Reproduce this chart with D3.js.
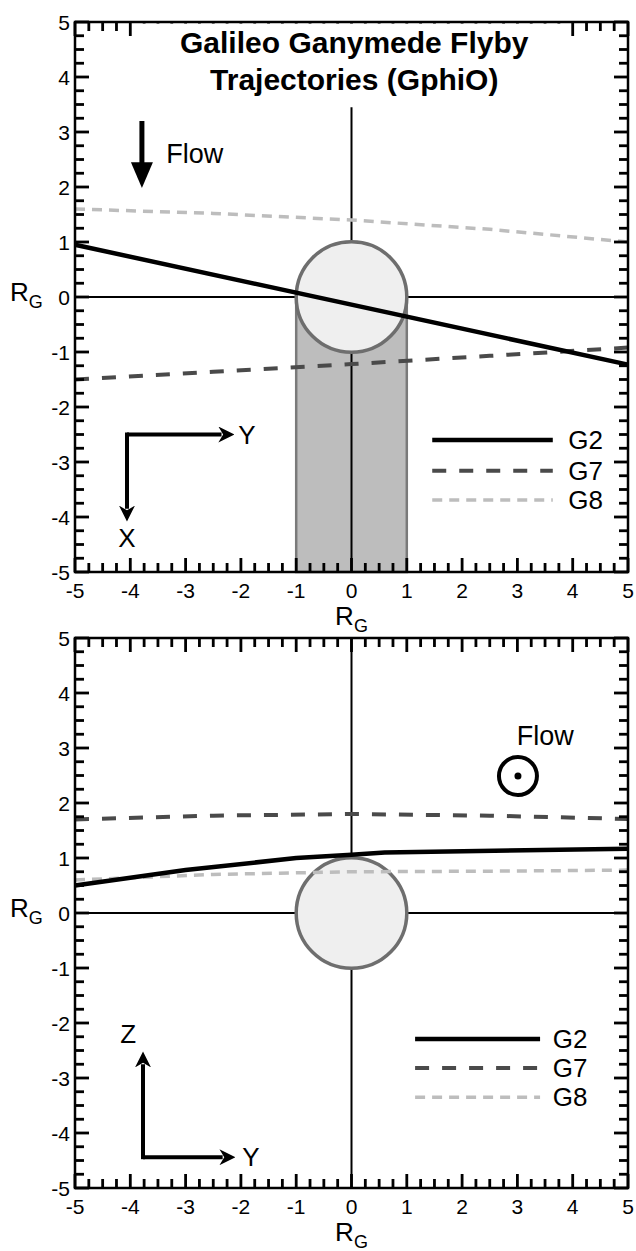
<!DOCTYPE html>
<html>
<head>
<meta charset="utf-8">
<script src="https://cdn.jsdelivr.net/npm/d3@7"></script>
<style>
  body { margin: 0; background: #fff; }
  svg { display: block; font-family: "Liberation Sans", Arial, sans-serif; }
</style>
</head>
<body>
<svg id="chart"></svg>
<script>
// tick values (RG units)
const majorTicks = d3.range(-5, 6, 1);
const minorTicks = d3.range(-5, 5.001, 0.25);

// XY panel (top): position along Y vs trajectory X
const xyG2x = [-5, 5];
const xyG2 = [0.95, -1.23];
const xyG7x = [-5, -2.5, 0, 2.5, 5];
const xyG7 = [-1.50, -1.36, -1.22, -1.07, -0.92];
const xyG8x = [-5, -2.5, 0, 2.5, 5];
const xyG8 = [1.60, 1.52, 1.40, 1.23, 1.00];

// YZ panel (bottom)
const yzG2x = [-5, -3, -1, 0, 0.6, 5];
const yzG2 = [0.50, 0.78, 1.00, 1.06, 1.10, 1.17];
const yzG7x = [-5, -2.5, 0, 2.5, 5];
const yzG7 = [1.70, 1.77, 1.80, 1.77, 1.71];
const yzG8x = [-5, -2.5, 0, 2.5, 5];
const yzG8 = [0.60, 0.70, 0.75, 0.76, 0.78];

const flybys = ["G2", "G7", "G8"];
const titleLines = ["Galileo Ganymede Flyby", "Trajectories (GphiO)"];

const W = 636, H = 1251;
const svg = d3.select("#chart").attr("width", W).attr("height", H);

const x = d3.scaleLinear().domain([-5, 5]).range([75, 628]);
const yTop = d3.scaleLinear().domain([-5, 5]).range([572, 22]);
const yBot = d3.scaleLinear().domain([-5, 5]).range([1188, 638]);

const lineStyle = {
  G2: { color: "#000", width: 4.5, dash: null },
  G7: { color: "#4a4a4a", width: 4, dash: "14,13" },
  G8: { color: "#bdbdbd", width: 3.5, dash: "10,7" }
};

svg.append("defs").append("marker")
  .attr("id", "head")
  .attr("viewBox", "0 0 10 10").attr("refX", 2).attr("refY", 5)
  .attr("markerWidth", 4).attr("markerHeight", 4)
  .attr("orient", "auto")
  .append("path").attr("d", "M0,0 L10,5 L0,10 L3,5 Z").attr("fill", "#000");

const isMajor = v => Math.abs(v - Math.round(v)) < 1e-6;

// inward ticks on all four sides (drawn as thin rects), labels on bottom and left
function drawTicks(g, y) {
  const [y0, y1] = y.range();
  const [xa, xb] = x.range();
  const tk = g.append("g").attr("class", "ticks").attr("fill", "#000");
  const len = v => (isMajor(v) ? 14 : 9);
  tk.selectAll(".tb").data(minorTicks).join("rect").attr("class", "tb")
    .attr("x", v => x(v) - 1.4).attr("width", 2.8)
    .attr("y", v => y0 - len(v)).attr("height", v => len(v));
  tk.selectAll(".tt").data(minorTicks).join("rect").attr("class", "tt")
    .attr("x", v => x(v) - 1.4).attr("width", 2.8)
    .attr("y", y1).attr("height", v => len(v));
  tk.selectAll(".tl").data(minorTicks).join("rect").attr("class", "tl")
    .attr("y", v => y(v) - 1.4).attr("height", 2.8)
    .attr("x", xa).attr("width", v => len(v));
  tk.selectAll(".tr").data(minorTicks).join("rect").attr("class", "tr")
    .attr("y", v => y(v) - 1.4).attr("height", 2.8)
    .attr("x", v => xb - len(v)).attr("width", v => len(v));

  g.append("g").selectAll("text").data(majorTicks).join("text")
    .attr("x", v => x(v)).attr("y", y0 + 11).attr("dy", "0.71em")
    .attr("text-anchor", "middle").style("font-size", "21px")
    .text(v => String(v));
  g.append("g").selectAll("text").data(majorTicks).join("text")
    .attr("x", xa - 5).attr("y", v => y(v)).attr("dy", "0.36em")
    .attr("text-anchor", "end").style("font-size", "21px")
    .text(v => String(v));
}

function drawFrame(g, y) {
  const [y0, y1] = y.range();
  g.append("rect")
    .attr("x", x(-5)).attr("y", y1)
    .attr("width", x(5) - x(-5)).attr("height", y0 - y1)
    .attr("fill", "none").attr("stroke", "#000").attr("stroke-width", 2.5);
}

function rgLabel(g, px, py, anchor) {
  const t = g.append("text").attr("x", px).attr("y", py)
    .attr("text-anchor", anchor).style("font-size", "26px").attr("fill", "#000");
  t.append("tspan").text("R");
  t.append("tspan").attr("dy", 7).style("font-size", "18px").text("G");
}

function drawTraj(g, y, xs, vs, key) {
  const s = lineStyle[key];
  const line = d3.line().x(p => x(p[0])).y(p => y(p[1]));
  g.append("path")
    .datum(xs.map((v, i) => [v, vs[i]]))
    .attr("d", line)
    .attr("fill", "none")
    .attr("stroke", s.color)
    .attr("stroke-width", s.width)
    .attr("stroke-dasharray", s.dash);
}

function drawLegend(g, y, lx0, lx1, tx, ys) {
  flybys.forEach((k, i) => {
    const s = lineStyle[k];
    g.append("line")
      .attr("x1", x(lx0)).attr("x2", x(lx1))
      .attr("y1", y(ys[i])).attr("y2", y(ys[i]))
      .attr("stroke", s.color).attr("stroke-width", s.width)
      .attr("stroke-dasharray", s.dash);
    g.append("text")
      .attr("x", x(tx)).attr("y", y(ys[i]) + 9)
      .style("font-size", "26px").attr("fill", "#000")
      .text(k);
  });
}

function arrow(g, x1, y1, x2, y2, w) {
  g.append("line")
    .attr("x1", x1).attr("y1", y1).attr("x2", x2).attr("y2", y2)
    .attr("stroke", "#000").attr("stroke-width", w)
    .attr("marker-end", "url(#head)");
}

function drawGanymede(g, y) {
  g.append("circle")
    .attr("cx", x(0)).attr("cy", y(0)).attr("r", x(1) - x(0))
    .attr("fill", "#efefef").attr("stroke", "#6e6e6e").attr("stroke-width", 3.5);
}

// ---------- top panel ----------
const topPanel = svg.append("g");

topPanel.append("rect")
  .attr("x", x(-1)).attr("y", yTop(0))
  .attr("width", x(1) - x(-1)).attr("height", yTop(-5) - yTop(0))
  .attr("fill", "#bdbdbd").attr("stroke", "#7a7a7a").attr("stroke-width", 2.5);

topPanel.append("line").attr("x1", x(-5)).attr("x2", x(5))
  .attr("y1", yTop(0)).attr("y2", yTop(0)).attr("stroke", "#000").attr("stroke-width", 2);
topPanel.append("line").attr("x1", x(0)).attr("x2", x(0))
  .attr("y1", yTop(3.45)).attr("y2", yTop(-5)).attr("stroke", "#000").attr("stroke-width", 2);

drawGanymede(topPanel, yTop);
drawTraj(topPanel, yTop, xyG8x, xyG8, "G8");
drawTraj(topPanel, yTop, xyG7x, xyG7, "G7");
drawTraj(topPanel, yTop, xyG2x, xyG2, "G2");
drawTicks(topPanel, yTop);

// white box behind the title hides the top ticks
topPanel.append("rect")
  .attr("x", x(-3.96)).attr("y", yTop(5) + 1.5)
  .attr("width", x(3.96) - x(-3.96)).attr("height", yTop(3.5) - yTop(5))
  .attr("fill", "#fff");
drawFrame(topPanel, yTop);

topPanel.selectAll(".title").data(titleLines).join("text")
  .attr("x", x(0.05)).attr("y", (t, i) => 53 + i * 37)
  .attr("text-anchor", "middle")
  .style("font-size", "30px").style("font-weight", "bold")
  .attr("fill", "#000")
  .text(t => t);

// flow arrow
topPanel.append("line")
  .attr("x1", x(-3.79)).attr("x2", x(-3.79))
  .attr("y1", yTop(3.2)).attr("y2", yTop(2.4))
  .attr("stroke", "#000").attr("stroke-width", 5);
topPanel.append("path")
  .attr("d", `M${x(-3.79) - 11},${yTop(2.45)} L${x(-3.79) + 11},${yTop(2.45)} L${x(-3.79)},${yTop(1.98)} Z`)
  .attr("fill", "#000");
topPanel.append("text").attr("x", x(-3.35)).attr("y", yTop(2.44))
  .style("font-size", "27px").attr("fill", "#000").text("Flow");

// coordinate arrows Y -> and X down
const cTop = [-4.06, -2.5];
arrow(topPanel, x(cTop[0]), yTop(cTop[1]), x(-2.35), yTop(cTop[1]), 4);
arrow(topPanel, x(cTop[0]), yTop(cTop[1]), x(cTop[0]), yTop(-3.85), 4);
topPanel.append("line").attr("x1", x(cTop[0]) - 2).attr("x2", x(cTop[0]) + 2)
  .attr("y1", yTop(cTop[1])).attr("y2", yTop(cTop[1]))
  .attr("stroke", "#000").attr("stroke-width", 4);
topPanel.append("text").attr("x", x(-1.89)).attr("y", yTop(cTop[1]) + 9)
  .attr("text-anchor", "middle").style("font-size", "26px").text("Y");
topPanel.append("text").attr("x", x(cTop[0])).attr("y", yTop(-4.38) + 9)
  .attr("text-anchor", "middle").style("font-size", "26px").text("X");

drawLegend(topPanel, yTop, 1.46, 3.64, 3.92, [-2.6, -3.16, -3.69]);

rgLabel(topPanel, 10, yTop(0) + 4, "start");
rgLabel(topPanel, x(0), 625, "middle");

// ---------- bottom panel ----------
const botPanel = svg.append("g");

botPanel.append("line").attr("x1", x(-5)).attr("x2", x(5))
  .attr("y1", yBot(0)).attr("y2", yBot(0)).attr("stroke", "#000").attr("stroke-width", 2);
botPanel.append("line").attr("x1", x(0)).attr("x2", x(0))
  .attr("y1", yBot(5)).attr("y2", yBot(-5)).attr("stroke", "#000").attr("stroke-width", 2);

drawGanymede(botPanel, yBot);
drawTraj(botPanel, yBot, yzG8x, yzG8, "G8");
drawTraj(botPanel, yBot, yzG7x, yzG7, "G7");
drawTraj(botPanel, yBot, yzG2x, yzG2, "G2");
drawTicks(botPanel, yBot);
drawFrame(botPanel, yBot);

// flow out of the page
botPanel.append("circle").attr("cx", x(3.01)).attr("cy", yBot(2.49)).attr("r", 19)
  .attr("fill", "none").attr("stroke", "#000").attr("stroke-width", 4);
botPanel.append("circle").attr("cx", x(3.01)).attr("cy", yBot(2.49)).attr("r", 3.5)
  .attr("fill", "#000");
botPanel.append("text").attr("x", x(2.99)).attr("y", yBot(3.05))
  .style("font-size", "27px").attr("fill", "#000").text("Flow");

// coordinate arrows Z up and Y ->
const cBot = [-3.77, -4.44];
arrow(botPanel, x(cBot[0]), yBot(cBot[1]), x(cBot[0]), yBot(-2.75), 4);
arrow(botPanel, x(cBot[0]), yBot(cBot[1]), x(-2.33), yBot(cBot[1]), 4);
botPanel.append("line").attr("x1", x(cBot[0])).attr("x2", x(cBot[0]))
  .attr("y1", yBot(cBot[1]) - 2).attr("y2", yBot(cBot[1]) + 2)
  .attr("stroke", "#000").attr("stroke-width", 4);
botPanel.append("text").attr("x", x(-4.04)).attr("y", yBot(-2.2) + 9)
  .attr("text-anchor", "middle").style("font-size", "26px").text("Z");
botPanel.append("text").attr("x", x(-1.82)).attr("y", yBot(cBot[1]) + 9)
  .attr("text-anchor", "middle").style("font-size", "26px").text("Y");

drawLegend(botPanel, yBot, 1.15, 3.41, 3.64, [-2.29, -2.82, -3.35]);

rgLabel(botPanel, 10, yBot(0) + 4, "start");
rgLabel(botPanel, x(0), 1241, "middle");
</script>
</body>
</html>
